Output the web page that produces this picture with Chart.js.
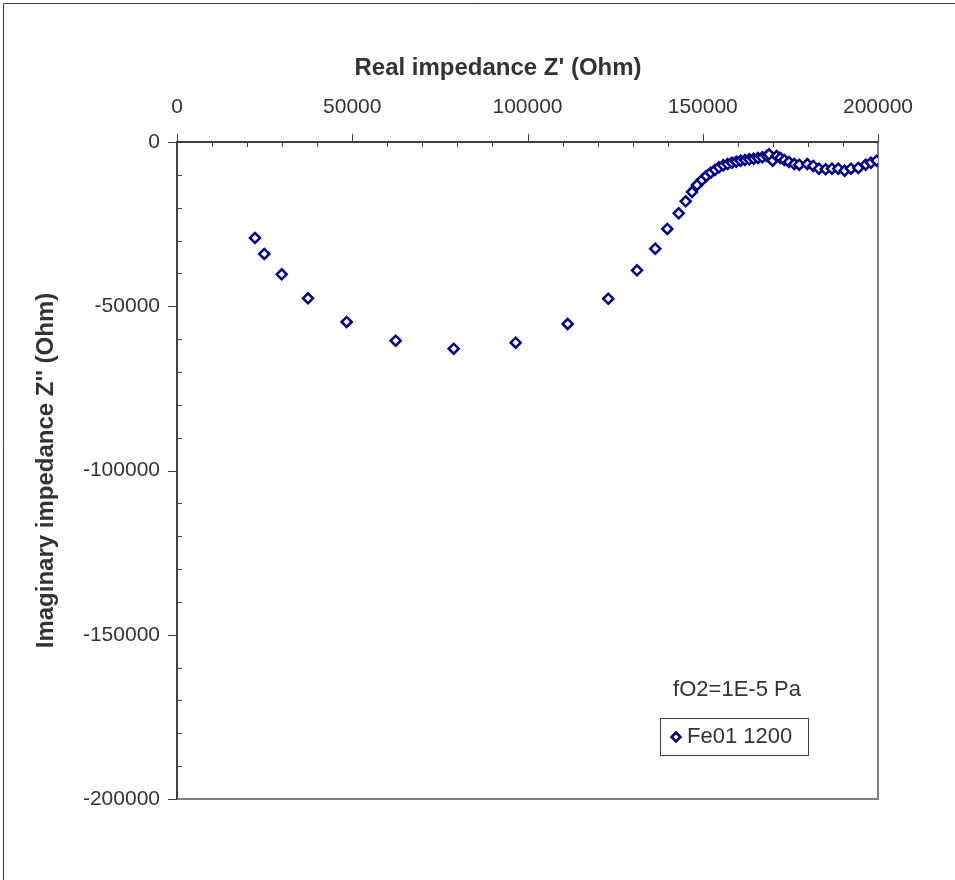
<!DOCTYPE html>
<html>
<head>
<meta charset="utf-8">
<script src="https://cdn.jsdelivr.net/npm/chart.js@4.4.0/dist/chart.umd.min.js"></script>
<style>
  html, body { margin: 0; padding: 0; background: #fff; }
  #wrap { width: 955px; height: 880px; }
</style>
</head>
<body>
<div id="wrap"><canvas id="mycanvas1" width="955" height="880"></canvas></div>
<script>
// Nyquist plot, Fe01 1200, fO2 = 1E-5 Pa
var realZ = [22250, 24900, 29870, 37370, 48410, 62390, 78940, 96630, 111460, 123050,
  131240, 136460, 139880, 143130, 145130, 146930, 148360, 149780, 151010, 152260,
  153490, 154630, 155860, 157110, 158340, 159570, 160820, 162050, 163280, 164530,
  165760, 166990, 168240, 168900, 169950, 171090, 172130, 173270, 174600, 176120,
  177540, 179830, 181540, 183160, 185070, 186870, 188670, 190500, 192290, 194380,
  196490, 198000, 199620];
var imagZ = [-29220, -34090, -40280, -47590, -54790, -60480, -62910, -61090, -55400, -47700,
  -39060, -32480, -26480, -21700, -18050, -15220, -13090, -11570, -10350, -9340,
  -8520, -7710, -7100, -6700, -6290, -5990, -5680, -5480, -5280, -5070,
  -4870, -4670, -4260, -3750, -5680, -4260, -4870, -5480, -6090, -6700,
  -6900, -6700, -7300, -8120, -8320, -8120, -8120, -8730, -8120, -7910,
  -6900, -6290, -5680];
var seriesName = "Fe01 1200";
var noteText = "fO2=1E-5 Pa";
var xTitle = "Real impedance Z' (Ohm)";
var yTitle = "Imaginary impedance Z'' (Ohm)";

var points = [];
for (var i in realZ) {
  points.push({x: realZ[i], y: imagZ[i]});
}

var navy = "#000080";
var fontFam = "'Liberation Sans', Arial, sans-serif";

var framePlugin = {
  id: 'frame',
  beforeDraw: function(chart) {
    var c = chart.ctx;
    c.save();
    c.fillStyle = '#fff';
    c.fillRect(0, 0, chart.width, chart.height);
    // outer chart border (only top / left are visible)
    c.strokeStyle = '#3c3c3c';
    c.lineWidth = 1;
    c.beginPath();
    c.moveTo(3.5, chart.height);
    c.lineTo(3.5, 3.5);
    c.lineTo(chart.width, 3.5);
    c.stroke();
    c.restore();
  },
  beforeDatasetsDraw: function(chart) {
    var c = chart.ctx, a = chart.chartArea;
    var xs = chart.scales.x, ys = chart.scales.y;
    c.save();
    // right and bottom of plot area
    c.strokeStyle = '#808080';
    c.lineWidth = 2;
    c.beginPath();
    c.moveTo(a.left, a.bottom);
    c.lineTo(a.right, a.bottom);
    c.lineTo(a.right, a.top);
    c.stroke();
    // axes
    c.strokeStyle = '#404040';
    c.lineWidth = 2;
    c.beginPath();
    c.moveTo(a.left, a.bottom);
    c.lineTo(a.left, a.top);
    c.lineTo(a.right, a.top);
    c.stroke();
    // tick marks: major outside, minor inside
    c.lineWidth = 1;
    c.strokeStyle = '#404040';
    c.beginPath();
    xs.ticks.forEach(function(t) {
      var px = Math.round(xs.getPixelForValue(t.value)) + 0.5;
      if (t.value % 50000 === 0) {
        c.moveTo(px, a.top - 8); c.lineTo(px, a.top + 1);
      } else {
        c.moveTo(px, a.top); c.lineTo(px, a.top + 5);
      }
    });
    ys.ticks.forEach(function(t) {
      var py = Math.round(ys.getPixelForValue(t.value)) + 0.5;
      if (t.value % 50000 === 0) {
        c.moveTo(a.left - 9, py); c.lineTo(a.left, py);
      } else {
        c.moveTo(a.left, py); c.lineTo(a.left + 5, py);
      }
    });
    c.stroke();
    c.restore();
  },
  afterDraw: function(chart) {
    var c = chart.ctx;
    c.save();
    // x axis title (sits a little left of the plot centre in the original)
    c.font = "bold 24px " + fontFam;
    c.fillStyle = '#333';
    c.textAlign = 'center';
    c.textBaseline = 'middle';
    c.fillText(xTitle, 498, 68);
    c.font = "22px " + fontFam;
    c.fillText(noteText, 737, 690);
    // legend box
    c.strokeStyle = '#404040';
    c.lineWidth = 1;
    c.strokeRect(660.5, 718.5, 148, 37);
    c.textAlign = 'left';
    c.fillText(chart.data.datasets[0].label, 687, 737);
    c.strokeStyle = navy;
    c.lineWidth = 2.5;
    c.fillStyle = '#fff';
    c.beginPath();
    c.moveTo(676, 732.5); c.lineTo(680.5, 737); c.lineTo(676, 741.5); c.lineTo(671.5, 737);
    c.closePath();
    c.fill(); c.stroke();
    c.restore();
  }
};

var ctx = document.getElementById('mycanvas1');

var chartdata = {
  datasets: [{
    label: seriesName,
    data: points,
    showLine: false,
    pointStyle: 'rectRot',
    pointRadius: 5,
    pointBorderWidth: 2.5,
    borderColor: navy,
    backgroundColor: '#fff',
    pointBackgroundColor: '#fff',
    pointBorderColor: navy
  }]
};

var ScatterGraph = new Chart(ctx, {
  type: 'scatter',
  data: chartdata,
  plugins: [framePlugin],
  options: {
    responsive: false,
    animation: false,
    layout: { padding: { top: 4, left: 4, right: 77, bottom: 81 } },
    plugins: { legend: { display: false }, tooltip: { enabled: false } },
    scales: {
      x: {
        type: 'linear',
        position: 'top',
        min: 0,
        max: 200000,
        grid: { display: false, drawTicks: false },
        border: { display: false },
        ticks: {
          stepSize: 10000,
          autoSkip: false,
          maxRotation: 0,
          padding: 22,
          color: '#333',
          font: { family: fontFam, size: 21 },
          callback: function(v) { return v % 50000 === 0 ? String(v) : ''; }
        },
        title: { display: false },
        afterFit: function(s) { s.height = 138; }
      },
      y: {
        type: 'linear',
        min: -200000,
        max: 0,
        grid: { display: false, drawTicks: false },
        border: { display: false },
        ticks: {
          stepSize: 10000,
          autoSkip: false,
          padding: 17,
          color: '#333',
          font: { family: fontFam, size: 21 },
          callback: function(v) { return v % 50000 === 0 ? String(v) : ''; }
        },
        title: {
          display: true,
          text: yTitle,
          color: '#333',
          padding: { top: 28, bottom: 0 },
          font: { family: fontFam, size: 24, weight: 'bold' }
        },
        afterFit: function(s) { s.width = 173; }
      }
    }
  }
});
</script>
</body>
</html>
